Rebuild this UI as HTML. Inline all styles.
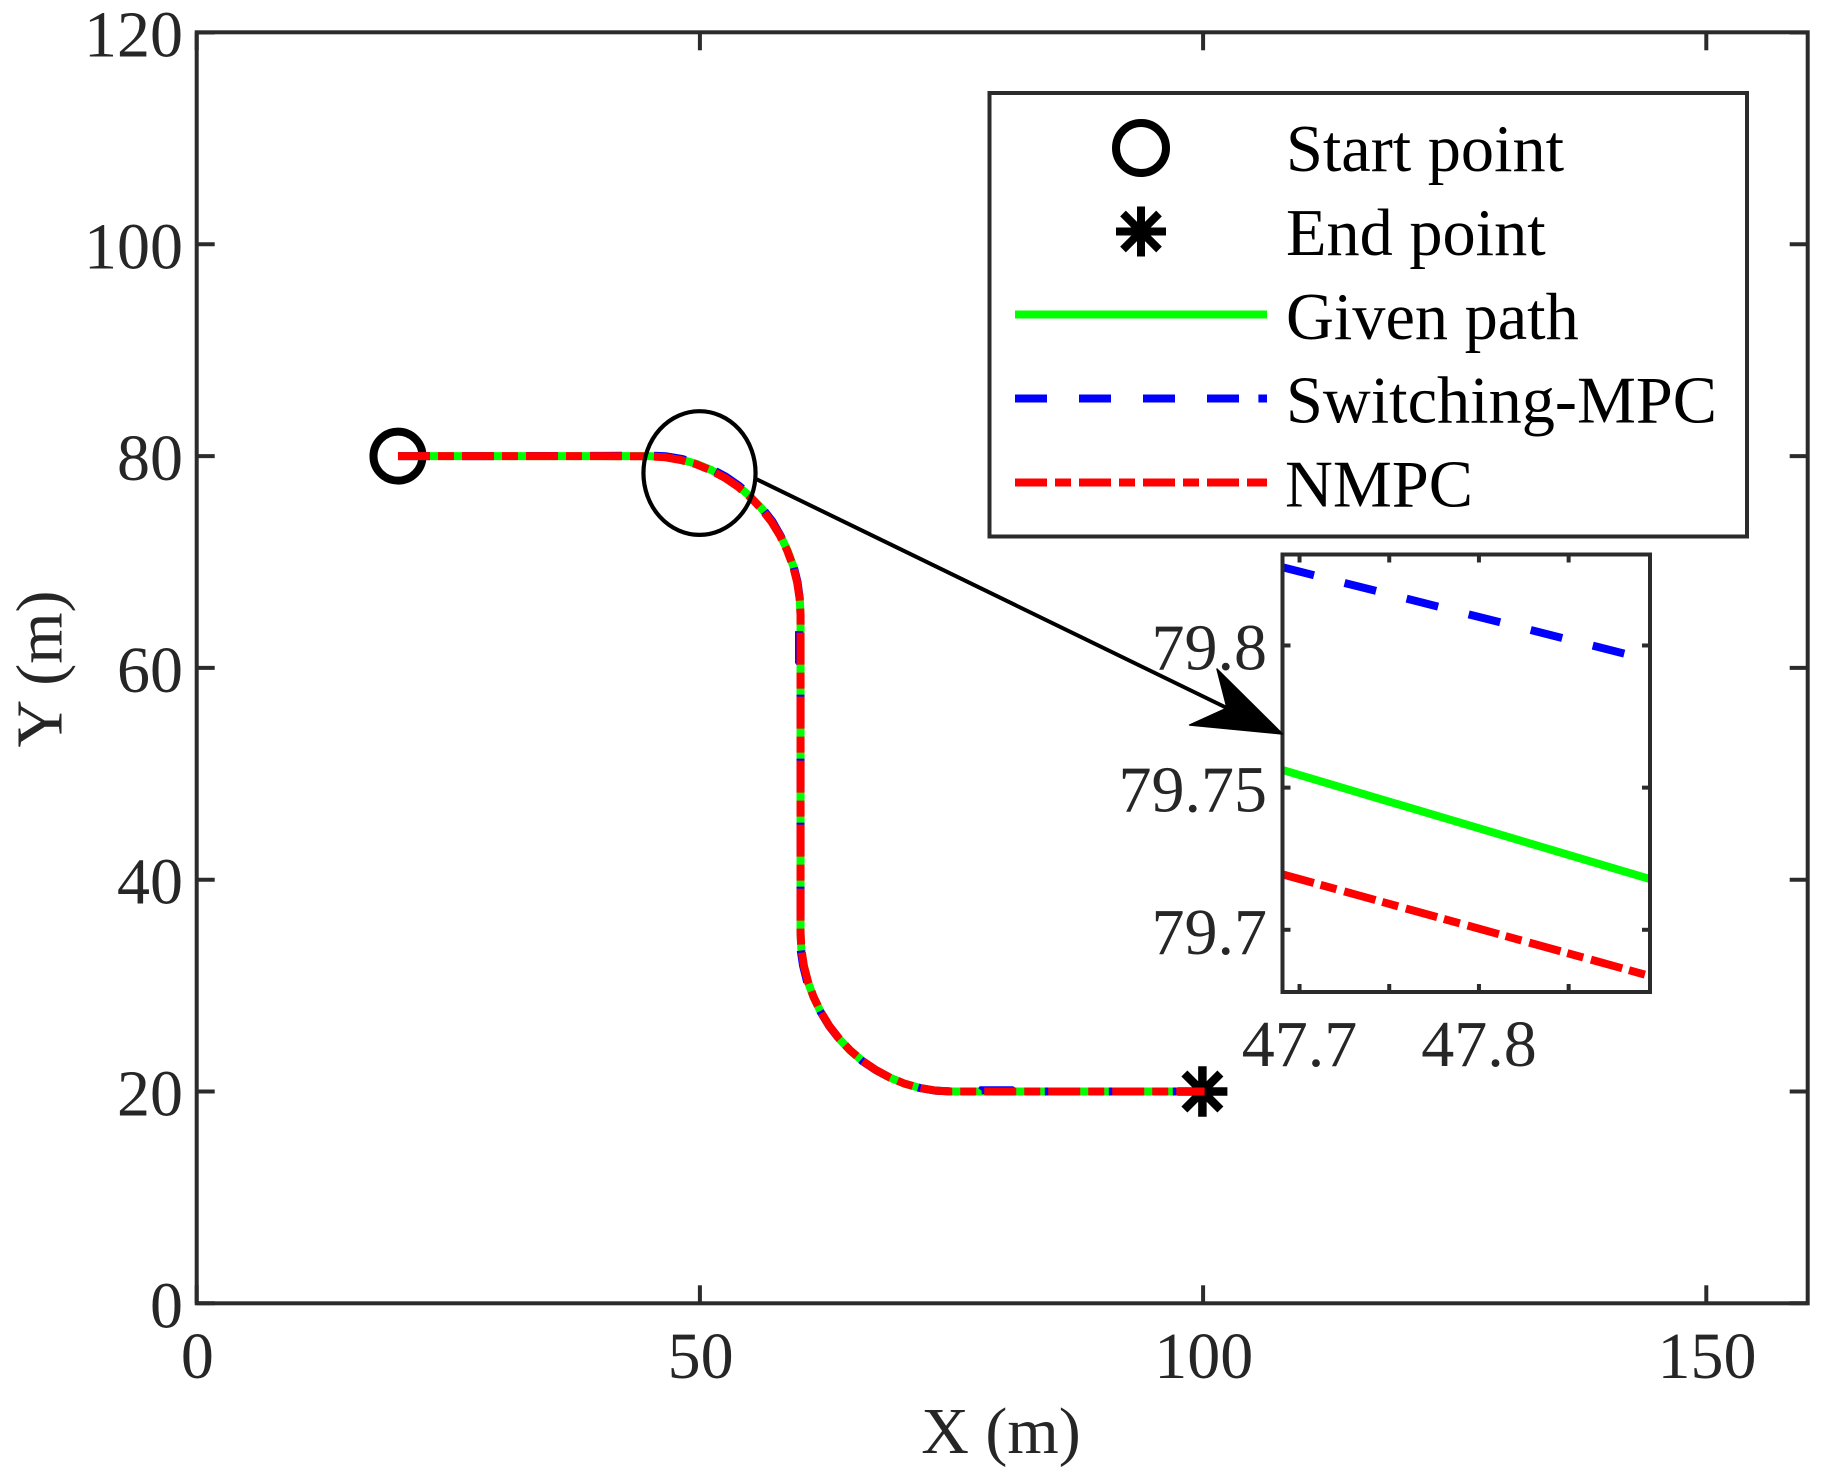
<!DOCTYPE html>
<html lang="en">
<head>
<meta charset="utf-8">
<title>Path tracking comparison</title>
<style>
  html, body { margin: 0; padding: 0; background: #fff; }
  svg { display: block; }
  text { font-family: "Liberation Serif", "Times New Roman", serif; font-size: 66px; fill: #262626; }
  .lg { fill: #000; font-size: 66.3px; }
</style>
</head>
<body>
<svg id="chart" xmlns="http://www.w3.org/2000/svg" width="1836" height="1475" viewBox="0 0 1836 1475">
  <rect x="0" y="0" width="1836" height="1475" fill="#fff"/>
  <g id="main-layer"></g>
  <g id="inset-layer"></g>
  <g id="legend">
    <rect x="989.5" y="93" width="757.5" height="443.5" fill="#fff" stroke="#2b2b2b" stroke-width="4"/>
    <g>
      <circle cx="1141" cy="148" r="25" fill="none" stroke="#000" stroke-width="8"/>
      <text class="lg" x="1286" y="171">Start point</text>
    </g>
    <g>
      <path d="M1141 206.5V256.5M1116 231.5H1166M1123 213.5L1159 249.5M1159 213.5L1123 249.5" fill="none" stroke="#000" stroke-width="8"/>
      <text class="lg" x="1286" y="255">End point</text>
    </g>
    <g>
      <line x1="1015" y1="314.5" x2="1267" y2="314.5" stroke="#00ff00" stroke-width="8"/>
      <text class="lg" x="1286" y="339">Given path</text>
    </g>
    <g>
      <line x1="1015" y1="398.5" x2="1267" y2="398.5" stroke="#0000ff" stroke-width="8" stroke-dasharray="32 32 32 32 32 32 32 19.4 8.6"/>
      <text class="lg" x="1286" y="422.5">Switching-MPC</text>
    </g>
    <g>
      <line x1="1015" y1="482.5" x2="1267" y2="482.5" stroke="#ff0000" stroke-width="8" stroke-dasharray="32 8 16 8 32 8 16 8 32 8 16 8 32 8 20"/>
      <text class="lg" x="1285" y="506.5">NMPC</text>
    </g>
  </g>
  <g id="annotation-layer"></g>
</svg>
<script>
// Main plot data
const xTicks = [0, 50, 100, 150];
const yTicks = [0, 20, 40, 60, 80, 100, 120];
const givenX = [20,30,40,45,46.57,48.12,49.64,51.10,52.50,53.82,55.04,56.15,57.14,57.99,58.70,59.27,59.67,59.92,60,60,60,60.08,60.33,60.73,61.30,62.01,62.86,63.85,64.96,66.18,67.50,68.90,70.36,71.88,73.43,75,80,90,100];
const givenY = [80,80,80,80,79.92,79.67,79.27,78.70,77.99,77.14,76.15,75.04,73.82,72.50,71.10,69.64,68.12,66.57,65,50,35,33.43,31.88,30.36,28.90,27.50,26.18,24.96,23.85,22.86,22.01,21.30,20.73,20.33,20.08,20,20,20,20];
const switchingX = [20,30,40,45,46.6,48.2,49.7,51.2,52.6,53.9,55.1,56.2,57.2,58.0,58.7,59.3,59.7,59.92,60,59.85,59.85,60,60,60,60.0,60.25,60.65,61.25,62.0,62.85,63.85,64.95,66.15,67.5,68.9,70.35,71.85,73.4,75,77.9,78,81,81.2,90,100];
const switchingY = [80,80,80.02,80.05,79.99,79.74,79.34,78.76,78.05,77.19,76.19,75.07,73.84,72.51,71.10,69.64,68.12,66.57,65,63.5,60.6,60.4,50,35,33.43,31.88,30.36,28.90,27.50,26.18,24.96,23.85,22.86,22.01,21.30,20.73,20.33,20.08,20,20,20.12,20.12,20,20,20];
const nmpcX = [20,30,40,45,46.57,48.11,49.63,51.08,52.48,53.80,55.02,56.13,57.12,57.97,58.68,59.25,59.66,59.91,60,60,60,60.08,60.33,60.74,61.31,62.02,62.87,63.86,64.97,66.19,67.51,68.91,70.37,71.89,73.44,75,80,90,100.15];
const nmpcY = [80,80,80,79.98,79.89,79.63,79.23,78.66,77.95,77.10,76.11,75.00,73.79,72.47,71.07,69.62,68.10,66.55,65,50,35,33.43,31.88,30.36,28.90,27.50,26.18,24.96,23.85,22.86,22.01,21.30,20.73,20.33,20.08,20,20,20,20];
const startPoint = [20, 80];
const endPoint = [100, 20];

// Inset data
const insetXTicks = [47.7, 47.75, 47.8, 47.85];
const insetYTicks = [79.7, 79.75, 79.8];
const insetXLabels = ['47.7', '', '47.8', ''];
const insetYLabels = ['79.7', '79.75', '79.8'];
const insetX = [47.6905, 47.895];
const insetGiven = [79.7562, 79.7179];
const insetSwitching = [79.8275, 79.7949];
const insetNmpc = [79.7195, 79.6838];

// Zoom annotation, in main-plot data units
const zoomCenter = [49.96, 78.4];
const zoomRadii = [5.57, 5.84];

const NS = 'http://www.w3.org/2000/svg';
const AXIS = '#2b2b2b';
const mainBox = { l: 196.7, r: 1807.7, t: 32.3, b: 1303.3 };
const insetBox = { l: 1282.5, r: 1650, t: 554.5, b: 992 };

// Axis functions
function sx(v) { return mainBox.l + v * 10.064; }
function sy(v) { return mainBox.b - v * 10.59; }
function ix(v) { return insetBox.l + (v - 47.6905) * 1794; }
function iy(v) { return insetBox.t + (79.832 - v) * 2843; }

function mk(tag, parent, attrs) {
  const el = document.createElementNS(NS, tag);
  for (const k in attrs) el.setAttribute(k, attrs[k]);
  parent.appendChild(el);
  return el;
}
function pts(xs, ys, fx, fy) {
  return xs.map(function (x, i) { return fx(x).toFixed(2) + ',' + fy(ys[i]).toFixed(2); }).join(' ');
}

const mainLayer = document.getElementById('main-layer');
const insetLayer = document.getElementById('inset-layer');
const annotationLayer = document.getElementById('annotation-layer');

// Main frame
const frame = mk('rect', mainLayer, { x: mainBox.l, y: mainBox.t, width: mainBox.r - mainBox.l, height: mainBox.b - mainBox.t, fill: 'none', stroke: AXIS, 'stroke-width': 4 });



// Main ticks and labels
xTicks.forEach(function (v) {
  const bottomTick = mk('line', mainLayer, { x1: sx(v), x2: sx(v), y1: mainBox.b, y2: mainBox.b - 18, stroke: AXIS, 'stroke-width': 4 });
  
  
  const topTick = mk('line', mainLayer, { x1: sx(v), x2: sx(v), y1: mainBox.t, y2: mainBox.t + 18, stroke: AXIS, 'stroke-width': 4 });
  
  
  const label = mk('text', mainLayer, { x: sx(v) + 0.7, y: 1378, 'text-anchor': 'middle' });
  label.textContent = String(v);
  
  
});
yTicks.forEach(function (v) {
  const leftTick = mk('line', mainLayer, { x1: mainBox.l, x2: mainBox.l + 18, y1: sy(v), y2: sy(v), stroke: AXIS, 'stroke-width': 4 });
  
  
  const rightTick = mk('line', mainLayer, { x1: mainBox.r, x2: mainBox.r - 18, y1: sy(v), y2: sy(v), stroke: AXIS, 'stroke-width': 4 });
  
  
  const label = mk('text', mainLayer, { x: 183, y: sy(v) + 24, 'text-anchor': 'end' });
  label.textContent = String(v);
  
  
});

// Axis titles
const xTitle = mk('text', mainLayer, { x: 1001, y: 1453, 'text-anchor': 'middle' });
xTitle.textContent = 'X (m)';


const yTitle = mk('text', mainLayer, { x: 0, y: 0, 'text-anchor': 'middle', transform: 'translate(61.5 669) rotate(-90)' });
yTitle.textContent = 'Y (m)';



// Start and end markers
const startMarker = mk('circle', mainLayer, { cx: sx(startPoint[0]), cy: sy(startPoint[1]), r: 24.5, fill: 'none', stroke: '#000', 'stroke-width': 8 });


const ex = sx(endPoint[0]) - 0.7;
const ey = sy(endPoint[1]);
const endMarker = mk('path', mainLayer, {
  d: 'M' + ex + ' ' + (ey - 25.3) + 'V' + (ey + 25.3) + 'M' + (ex - 25) + ' ' + ey + 'H' + (ex + 25) +
     'M' + (ex - 18) + ' ' + (ey - 18) + 'L' + (ex + 18) + ' ' + (ey + 18) +
     'M' + (ex + 18) + ' ' + (ey - 18) + 'L' + (ex - 18) + ' ' + (ey + 18),
  fill: 'none', stroke: '#000', 'stroke-width': 8.5
});



// Main series
const givenLine = mk('polyline', mainLayer, { points: pts(givenX, givenY, sx, sy), fill: 'none', stroke: '#00ff00', 'stroke-width': 8 });


const switchingLine = mk('polyline', mainLayer, { points: pts(switchingX, switchingY, sx, sy), fill: 'none', stroke: '#0000ff', 'stroke-width': 8, 'stroke-dasharray': '32 32' });


const nmpcLine = mk('polyline', mainLayer, { points: pts(nmpcX, nmpcY, sx, sy), fill: 'none', stroke: '#ff0000', 'stroke-width': 8, 'stroke-dasharray': '32 8 16 8' });



// Inset
const insetBg = mk('rect', insetLayer, { x: insetBox.l, y: insetBox.t, width: insetBox.r - insetBox.l, height: insetBox.b - insetBox.t, fill: '#fff' });


const defs = mk('defs', insetLayer, {});
const clip = mk('clipPath', defs, { id: 'inset-clip' });
mk('rect', clip, { x: insetBox.l, y: insetBox.t, width: insetBox.r - insetBox.l, height: insetBox.b - insetBox.t });
const insetLines = mk('g', insetLayer, { 'clip-path': 'url(#inset-clip)' });


const insetGivenLine = mk('polyline', insetLines, { points: pts(insetX, insetGiven, ix, iy), fill: 'none', stroke: '#00ff00', 'stroke-width': 8 });


const insetSwitchingLine = mk('polyline', insetLines, { points: pts(insetX, insetSwitching, ix, iy), fill: 'none', stroke: '#0000ff', 'stroke-width': 8, 'stroke-dasharray': '32.5 31.5' });


const insetNmpcLine = mk('polyline', insetLines, { points: pts(insetX, insetNmpc, ix, iy), fill: 'none', stroke: '#ff0000', 'stroke-width': 8, 'stroke-dasharray': '32.5 7 16.5 8' });


const insetFrame = mk('rect', insetLayer, { x: insetBox.l, y: insetBox.t, width: insetBox.r - insetBox.l, height: insetBox.b - insetBox.t, fill: 'none', stroke: AXIS, 'stroke-width': 4 });



insetXTicks.forEach(function (v, i) {
  const bottomTick = mk('line', insetLayer, { x1: ix(v), x2: ix(v), y1: insetBox.b, y2: insetBox.b - 8, stroke: AXIS, 'stroke-width': 4 });
  
  
  const topTick = mk('line', insetLayer, { x1: ix(v), x2: ix(v), y1: insetBox.t, y2: insetBox.t + 8, stroke: AXIS, 'stroke-width': 4 });
  
  
  if (insetXLabels[i]) {
    const label = mk('text', insetLayer, { x: ix(v), y: 1066, 'text-anchor': 'middle' });
    label.textContent = insetXLabels[i];
    
    
  }
});
insetYTicks.forEach(function (v, i) {
  const leftTick = mk('line', insetLayer, { x1: insetBox.l, x2: insetBox.l + 8, y1: iy(v), y2: iy(v), stroke: AXIS, 'stroke-width': 4 });
  
  
  const rightTick = mk('line', insetLayer, { x1: insetBox.r, x2: insetBox.r - 8, y1: iy(v), y2: iy(v), stroke: AXIS, 'stroke-width': 4 });
  
  
  const label = mk('text', insetLayer, { x: 1267, y: iy(v) + 24, 'text-anchor': 'end' });
  label.textContent = insetYLabels[i];
  
  
});

// Zoom ellipse and arrow
const zoomEllipse = mk('ellipse', annotationLayer, { cx: sx(zoomCenter[0]), cy: sy(zoomCenter[1]), rx: zoomRadii[0] * 10.064, ry: zoomRadii[1] * 10.59, fill: 'none', stroke: '#000', 'stroke-width': 4.2 });


const arrowLine = mk('line', annotationLayer, { x1: 756.7, y1: 479.3, x2: 1230, y2: 709.5, stroke: '#000', 'stroke-width': 4 });


const arrowHead = mk('polygon', annotationLayer, { points: '1282.5,734 1217,669 1227,708 1189.6,725', fill: '#000', stroke: '#000', 'stroke-width': 1.5, 'stroke-linejoin': 'round' });


</script>
</body>
</html>
